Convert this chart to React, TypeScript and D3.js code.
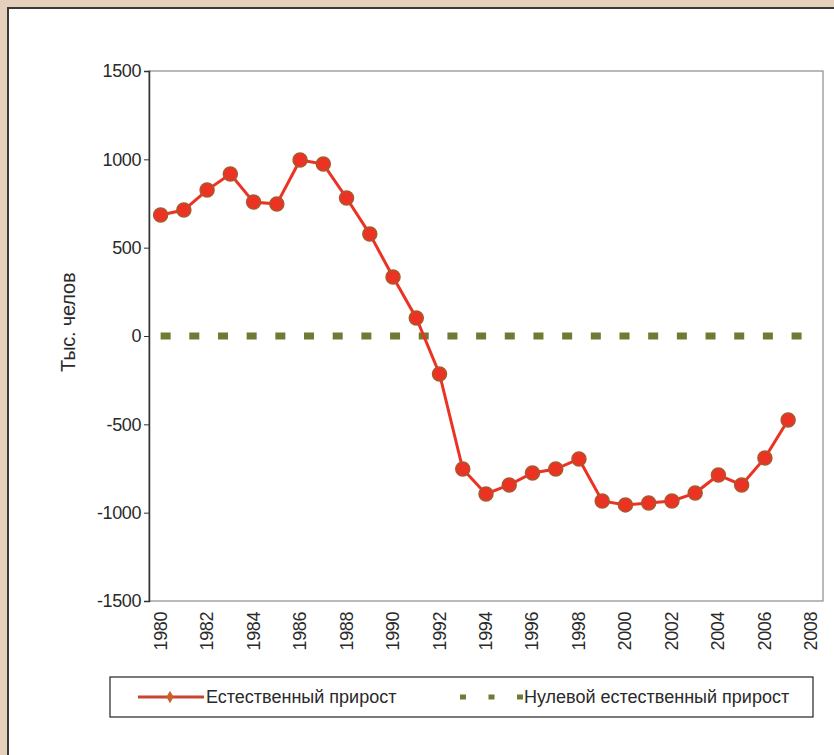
import { useRef, useEffect } from 'react';
import * as d3 from 'd3';

// categories on the x axis (one slot per year, labels on even years)
const YEARS = [
  '1980', '1981', '1982', '1983', '1984', '1985', '1986', '1987', '1988', '1989',
  '1990', '1991', '1992', '1993', '1994', '1995', '1996', '1997', '1998', '1999',
  '2000', '2001', '2002', '2003', '2004', '2005', '2006', '2007', '2008',
];
const TICK_YEARS = [
  '1980', '1982', '1984', '1986', '1988', '1990', '1992', '1994',
  '1996', '1998', '2000', '2002', '2004', '2006', '2008',
];
const Y_TICKS = [1500, 1000, 500, 0, -500, -1000, -1500];

// Естественный прирост, тыс. человек (1980–2007)
const GROWTH_YEARS = [
  '1980', '1981', '1982', '1983', '1984', '1985', '1986', '1987', '1988', '1989',
  '1990', '1991', '1992', '1993', '1994', '1995', '1996', '1997', '1998', '1999',
  '2000', '2001', '2002', '2003', '2004', '2005', '2006', '2007',
];
const GROWTH = [
  685, 713, 826, 917, 758, 747, 996, 973, 781, 577,
  334, 102, -215, -753, -894, -843, -775, -753, -696, -934,
  -956, -945, -934, -889, -787, -843, -690, -475,
];

// Нулевой естественный прирост
const ZERO_YEARS = ['1980', '2008'];
const ZERO = [0, 0];

const SERIES_NAMES = ['Естественный прирост', 'Нулевой естественный прирост'];
const Y_TITLE = 'Тыс. челов';

export default function App() {
  const ref = useRef<SVGSVGElement>(null);

  useEffect(() => {
    if (!ref.current) return;
    const width = 834;
    const height = 755;
    const font = '"Liberation Sans", Arial, sans-serif';
    const red = '#ec3323';
    const olive = '#6f7b32';
    const ink = '#2a2a2a';

    const svg = d3.select(ref.current);
    svg.selectAll('*').remove();

    // page background and white panel
    svg.append('rect').attr('width', width).attr('height', height).attr('fill', '#e5d0bd');
    svg.append('rect').attr('x', 8).attr('y', 8).attr('width', width).attr('height', height)
      .attr('fill', '#fff').attr('stroke', '#3a3a3a').attr('stroke-width', 2);

    const x = d3.scalePoint<string>().domain(YEARS).range([149, 823]).padding(0.5);
    const y = d3.scaleLinear().domain([-1500, 1500]).range([601, 71]);

    // plot frame
    svg.append('rect')
      .attr('x', 149).attr('y', y(1500))
      .attr('width', 823 - 149).attr('height', y(-1500) - y(1500))
      .attr('fill', 'none').attr('stroke', '#8c8c8c').attr('stroke-width', 1.2);

    // y axis (plain hyphen for negatives, like the source)
    const yAxis = svg.append('g')
      .attr('transform', 'translate(149,0)')
      .call(d3.axisLeft(y).tickValues(Y_TICKS).tickSize(5).tickPadding(3)
        .tickFormat((d) => String(d)));
    yAxis.select('.domain').attr('stroke', '#333').attr('stroke-width', 1.5);
    yAxis.selectAll('line').attr('stroke', '#333');
    yAxis.selectAll('text')
      .attr('font-family', font).attr('font-size', 18).attr('fill', ink)
      .attr('letter-spacing', -0.4);

    // x axis labels (rotated)
    svg.append('g')
      .selectAll('text')
      .data(TICK_YEARS)
      .enter()
      .append('text')
      .attr('transform', (d) => `translate(${x(d)! + 6},612) rotate(-90)`)
      .attr('text-anchor', 'end')
      .attr('font-family', font).attr('font-size', 18).attr('fill', ink)
      .attr('letter-spacing', -0.4)
      .text((d) => d);

    // y title
    svg.append('text')
      .attr('transform', 'translate(75,372) rotate(-90)')
      .attr('font-family', font).attr('font-size', 20).attr('fill', ink)
      .attr('letter-spacing', -0.2)
      .text(Y_TITLE);

    // zero line
    const zeroLine = d3.line<number>()
      .x((_, i) => x(ZERO_YEARS[i])!)
      .y((d) => y(d));
    svg.append('path')
      .datum(ZERO)
      .attr('d', zeroLine)
      .attr('fill', 'none')
      .attr('stroke', olive)
      .attr('stroke-width', 7)
      .attr('stroke-dasharray', '10 18.68');

    // growth line + markers
    const growthLine = d3.line<number>()
      .x((_, i) => x(GROWTH_YEARS[i])!)
      .y((d) => y(d));
    svg.append('path')
      .datum(GROWTH)
      .attr('d', growthLine)
      .attr('fill', 'none')
      .attr('stroke', red)
      .attr('stroke-width', 3);

    svg.append('g')
      .selectAll('circle')
      .data(GROWTH)
      .enter()
      .append('circle')
      .attr('cx', (_, i) => x(GROWTH_YEARS[i])!)
      .attr('cy', (d) => y(d))
      .attr('r', 7)
      .attr('fill', red)
      .attr('stroke', '#a9582e')
      .attr('stroke-width', 1.5);

    // legend
    const lg = svg.append('g').attr('transform', 'translate(110,677)');
    lg.append('rect').attr('width', 703).attr('height', 40)
      .attr('fill', '#fff').attr('stroke', '#222').attr('stroke-width', 1.2);
    lg.append('line').attr('x1', 28).attr('x2', 94).attr('y1', 20).attr('y2', 20)
      .attr('stroke', '#c8452f').attr('stroke-width', 3);
    lg.append('path').attr('d', d3.symbol(d3.symbolDiamond, 45)())
      .attr('transform', 'translate(60,20)').attr('fill', '#c8622a');
    lg.append('text').attr('x', 96).attr('y', 26)
      .attr('font-family', font).attr('font-size', 18).attr('fill', ink)
      .text(SERIES_NAMES[0]);
    lg.append('line').attr('x1', 350).attr('x2', 414).attr('y1', 20).attr('y2', 20)
      .attr('stroke', olive).attr('stroke-width', 5).attr('stroke-dasharray', '6 22.5');
    lg.append('text').attr('x', 414).attr('y', 26)
      .attr('font-family', font).attr('font-size', 18).attr('fill', ink)
      .text(SERIES_NAMES[1]);
  }, []);

  return (
    <svg
      ref={ref}
      width={834}
      height={755}
      style={{ position: 'absolute', left: 0, top: 0, display: 'block' }}
    />
  );
}
